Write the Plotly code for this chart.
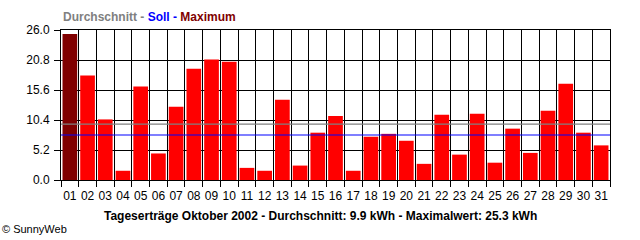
import plotly.graph_objects as go

days = [f"{d:02d}" for d in range(1, 32)]
yields = [25.3, 18.1, 10.5, 1.6, 16.2, 4.6, 12.7, 19.3, 20.9, 20.5,
          2.1, 1.6, 13.9, 2.5, 8.2, 11.1, 1.6, 7.5, 8.0, 6.8,
          2.8, 11.3, 4.4, 11.5, 3.0, 8.9, 4.7, 12.0, 16.7, 8.2, 6.0]
average_line = 9.7
target_line = 7.8
y_ticks = [0.0, 5.2, 10.4, 15.6, 20.8, 26.0]

max_val = max(yields)
colors = ["#800000" if v == max_val else "#FF0000" for v in yields]

fig = go.Figure()
fig.add_trace(go.Bar(x=days, y=yields, marker=dict(color=colors, line=dict(width=0)),
                     hoverinfo="x+y"))

fig.add_shape(type="line", xref="paper", x0=0, x1=1, yref="y", y0=average_line, y1=average_line,
              line=dict(color="#808080", width=1.2), layer="above")
fig.add_shape(type="line", xref="paper", x0=0, x1=1, yref="y", y0=target_line, y1=target_line,
              line=dict(color="#0000FF", width=1.2), layer="above")

font = "Liberation Sans, Arial, sans-serif"

fig.update_layout(
    width=640, height=240,
    margin=dict(l=61, r=30, t=30, b=60),
    paper_bgcolor="white", plot_bgcolor="white",
    bargap=0.17, showlegend=False,
    font=dict(family=font, size=12, color="black"),
    xaxis=dict(type="category", tickson="boundaries", ticks="outside", ticklen=6,
               tickangle=0, ticklabelstandoff=5,
               tickcolor="black", showgrid=True, gridcolor="black", gridwidth=1,
               showline=True, linecolor="black", mirror=True,
               tickfont=dict(size=12), fixedrange=True),
    yaxis=dict(range=[0, 26], tickvals=y_ticks, tickformat=".1f", ticks="outside", ticklen=6,
               ticklabelstandoff=2,
               tickcolor="black", showgrid=True, gridcolor="black", gridwidth=1,
               showline=True, linecolor="black", mirror=True, zeroline=False,
               tickfont=dict(size=12), fixedrange=True),
)

fig.add_annotation(xref="paper", yref="paper", x=0, y=1, xanchor="left", yanchor="bottom",
                   yshift=4, showarrow=False, font=dict(size=12, family=font),
                   text="<b><span style='color:#808080'>Durchschnitt - </span>"
                        "<span style='color:#0000FF'>Soll - </span>"
                        "<span style='color:#800000'>Maximum</span></b>")
fig.add_annotation(xref="paper", yref="paper", x=(320 - 61) / 549, y=0, xanchor="center",
                   yanchor="middle", yshift=-36, showarrow=False,
                   font=dict(size=12, family=font, color="black"),
                   text="<b>Tageserträge Oktober 2002 - Durchschnitt: 9.9 kWh - Maximalwert: 25.3 kWh</b>")
fig.add_annotation(xref="paper", yref="paper", x=-61 / 549, y=0, xanchor="left", yanchor="middle",
                   yshift=-49, showarrow=False, font=dict(size=11, family=font, color="black"),
                   text="© SunnyWeb")

fig.write_html("out.html")
